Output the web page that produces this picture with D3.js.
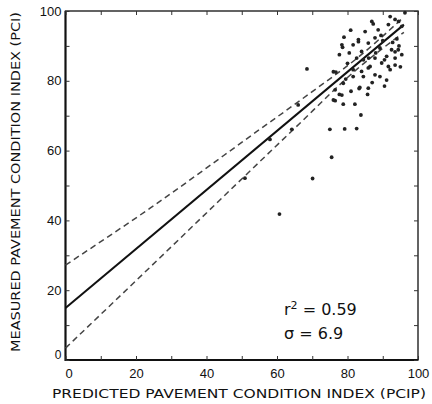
<!DOCTYPE html>
<html>
<head>
<meta charset="utf-8">
<script src="https://cdn.jsdelivr.net/npm/d3@7"></script>
<style>
    body { margin: 0; background: #fff; }
    svg { font-family: "DejaVu Sans", sans-serif; }
</style>
</head>
<body>
<svg id="chart" width="432" height="404"></svg>
<script>
// Measured vs predicted PCI
const pcip = [68.5, 66.0, 64.2, 58.0, 50.9, 70.1, 60.7, 75.5, 75.0, 79.2, 82.6, 76.5,
    80.9, 79.0, 81.6, 78.6, 77.7, 76.7, 81.6, 81.6, 78.8, 77.7, 76.0, 78.8, 82.1, 83.3,
    83.8, 83.5, 85.9, 85.7, 91.1, 89.2, 84.5, 83.1, 86.9, 93.5, 91.6, 95.4, 84.0, 82.6,
    85.9, 87.8, 89.2, 92.5, 94.4, 91.1, 93.5, 95.4, 87.8, 89.7, 91.6, 92.1, 85.9, 84.0,
    87.8, 96.3, 85.0, 87.3, 92.1, 88.7, 83.1, 78.4, 76.0, 76.5, 78.4, 86.4, 93.5, 94.0,
    90.0, 88.0, 86.0, 92.8, 94.6, 80.0, 79.5, 81.0, 90.5, 93.5, 95.0, 89.5, 94.5, 90.5,
    87.0, 84.5, 80.5];
const pci = [83.4, 73.1, 66.1, 63.2, 52.1, 52.0, 41.8, 58.1, 66.1, 66.2, 66.3, 74.3,
    94.5, 92.5, 90.3, 89.6, 87.5, 82.5, 83.2, 81.2, 79.3, 76.1, 74.5, 73.3, 73.3, 77.8,
    70.2, 78.1, 77.9, 76.1, 80.2, 81.2, 81.2, 91.8, 97.0, 97.6, 96.1, 95.6, 88.4, 86.5,
    90.8, 92.3, 89.4, 88.9, 88.9, 87.0, 86.5, 87.5, 86.5, 85.1, 84.1, 83.2, 83.7, 82.7,
    81.7, 99.5, 94.1, 96.3, 98.4, 94.6, 91.2, 90.3, 82.6, 77.4, 75.9, 84.1, 88.3, 92.0,
    91.5, 88.0, 86.5, 91.0, 90.0, 85.0, 80.5, 77.0, 78.5, 84.5, 84.0, 93.0, 97.0, 86.0,
    79.5, 86.0, 88.0];

// regression line and confidence limits
const fitLine = [[0, 14.9], [96, 96.1]];
const upperLimit = [[0, 27.2], [24, 43.5], [55, 66.0], [70, 76.9], [83, 86.7], [96, 98.3]];
const lowerLimit = [[0, 3.4], [24, 26.6], [64.5, 65.9], [83, 83.6], [96, 93.9]];

const tickValues = [0, 10, 20, 30, 40, 50, 60, 70, 80, 90, 100];
const tickLabels = ["0", "20", "40", "60", "80", "100"];

const svg = d3.select("#chart");

const x = d3.scaleLinear().domain([0, 100]).range([65.5, 418]);
const y = d3.scaleLinear().domain([0, 100]).range([360, 11]);

// frame
svg.append("rect")
    .attr("x", x(0))
    .attr("y", y(100))
    .attr("width", x(100) - x(0))
    .attr("height", y(0) - y(100))
    .attr("fill", "none")
    .attr("stroke", "#222")
    .attr("stroke-width", 1.4);

svg.append("path")
    .attr("d", "M" + x(0) + "," + y(100) + "V" + y(0) + "H" + x(100))
    .attr("fill", "none")
    .attr("stroke", "#111")
    .attr("stroke-width", 2);

// inward ticks on all four sides
function fmt(d) {
    return tickLabels.indexOf(String(d)) >= 0 ? String(d) : "";
}

const xAxis = svg.append("g")
    .attr("transform", "translate(0," + y(0) + ")")
    .call(d3.axisBottom(x).tickValues(tickValues).tickSize(-4).tickPadding(6).tickFormat(fmt));

const yAxis = svg.append("g")
    .attr("transform", "translate(" + x(0) + ",0)")
    .call(d3.axisLeft(y).tickValues(tickValues).tickSize(-4).tickPadding(4).tickFormat(fmt));

svg.append("g")
    .attr("transform", "translate(0," + y(100) + ")")
    .call(d3.axisTop(x).tickValues(tickValues).tickSize(-4).tickFormat(""));

svg.append("g")
    .attr("transform", "translate(" + x(100) + ",0)")
    .call(d3.axisRight(y).tickValues(tickValues).tickSize(-4).tickFormat(""));

svg.selectAll(".domain").remove();
svg.selectAll(".tick line").attr("stroke", "#333").attr("stroke-width", 1);

xAxis.selectAll("text")
    .attr("font-size", 13)
    .attr("fill", "#111")
    .attr("dy", "0.9em");
xAxis.selectAll(".tick text")
    .filter(function (d) { return d === 0; })
    .attr("dx", "3");

yAxis.selectAll("text")
    .attr("font-size", 13)
    .attr("fill", "#111");
yAxis.selectAll(".tick text")
    .filter(function (d) { return d === 0; })
    .attr("dy", "-0.1em")
    .attr("font-size", 12);

// confidence limits (dashed) and regression line
const line = d3.line()
    .x(function (d) { return x(d[0]); })
    .y(function (d) { return y(d[1]); })
    .curve(d3.curveMonotoneX);

svg.selectAll(".limit")
    .data([upperLimit, lowerLimit])
    .enter()
    .append("path")
    .attr("class", "limit")
    .attr("d", line)
    .attr("fill", "none")
    .attr("stroke", "#444")
    .attr("stroke-width", 1.5)
    .attr("stroke-dasharray", "6,4");

svg.append("path")
    .attr("d", line(fitLine))
    .attr("fill", "none")
    .attr("stroke", "#111")
    .attr("stroke-width", 2);

// observations
svg.append("g")
    .selectAll("circle")
    .data(d3.range(pcip.length))
    .enter()
    .append("circle")
    .attr("cx", function (i) { return x(pcip[i]); })
    .attr("cy", function (i) { return y(pci[i]); })
    .attr("r", 1.9)
    .attr("fill", "#222");

// statistics
const stats = svg.append("text")
    .attr("x", 284)
    .attr("y", 315)
    .attr("font-size", 16)
    .attr("fill", "#111");
stats.append("tspan").text("r");
stats.append("tspan").attr("font-size", 11).attr("dy", "-0.55em").text("2");
stats.append("tspan").attr("dy", "0.35em").text(" = 0.59");

svg.append("text")
    .attr("x", 284)
    .attr("y", 339)
    .attr("font-size", 16)
    .attr("fill", "#111")
    .text("\u03c3 = 6.9");

// axis titles
svg.append("text")
    .attr("x", 52)
    .attr("y", 398)
    .attr("font-size", 13)
    .attr("fill", "#111")
    .attr("textLength", 374)
    .attr("lengthAdjust", "spacingAndGlyphs")
    .text("PREDICTED PAVEMENT CONDITION INDEX (PCIP)");

svg.append("text")
    .attr("transform", "translate(20,352) rotate(-90)")
    .attr("font-size", 13)
    .attr("fill", "#111")
    .attr("textLength", 340)
    .attr("lengthAdjust", "spacingAndGlyphs")
    .text("MEASURED PAVEMENT CONDITION INDEX (PCI)");
</script>
</body>
</html>
